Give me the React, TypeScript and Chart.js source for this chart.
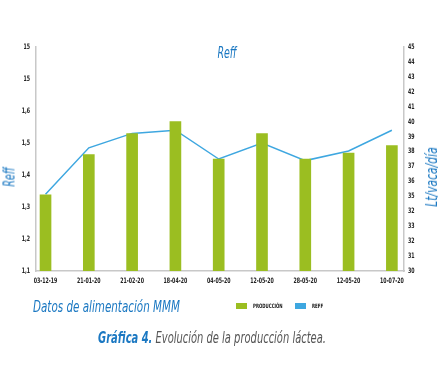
import React, { useEffect, useRef } from "react";
import { Chart, registerables } from "chart.js";

Chart.register(...registerables);

const dates = ["03-12-19", "21-01-20", "21-02-20", "18-04-20", "04-05-20", "12-05-20", "28-05-20", "12-05-20", "10-07-20"];
const produccion = [35.1, 37.8, 39.2, 40.0, 37.5, 39.2, 37.5, 37.9, 38.4];
const reff = [1.34, 1.485, 1.53, 1.54, 1.45, 1.5, 1.445, 1.475, 1.54];
const leftTicks = [1.1, 1.2, 1.3, 1.4, 1.5, 1.6, 1.7, 1.8];
const leftLabels = ["1,1", "1,2", "1,3", "1,4", "1,5", "1,6", "15", "15"];
const rightTicks = [30, 31, 32, 33, 34, 35, 36, 37, 38, 39, 40, 41, 42, 43, 44, 45];
const rightLabels = ["30", "31", "32", "33", "32", "35", "36", "37", "38", "39", "40", "41", "42", "43", "44", "45"];

const GREEN = "#9bbe21";
const BLUE_LINE = "#3ea7e0";
const BLUE_TEXT = "#1b78c2";
const NARROW = "'Liberation Sans Narrow', 'DejaVu Sans Condensed', sans-serif";
const SQUEEZE = 0.7;

// Draws the tick labels in a condensed way, positioned by the library's scales.
const condensedTicks = {
  id: "condensedTicks",
  afterDraw(chart: any) {
    const ctx = chart.ctx as CanvasRenderingContext2D;
    const xs = chart.scales.x;
    const yl = chart.scales.y;
    const yr = chart.scales.y2;
    const put = (text: string, x: number, y: number, align: CanvasTextAlign) => {
      ctx.save();
      ctx.translate(x, y);
      ctx.scale(SQUEEZE, 1);
      ctx.textAlign = align;
      ctx.textBaseline = "middle";
      ctx.fillText(text, 0, 0);
      ctx.restore();
    };
    ctx.save();
    ctx.fillStyle = "#222";
    ctx.font = "bold 7.5px " + NARROW;
    xs.ticks.forEach((t: any, i: number) => put(dates[i], xs.getPixelForValue(t.value), xs.top + 10, "center"));
    yl.ticks.forEach((t: any, i: number) => put(leftLabels[i], yl.right - 6, yl.getPixelForValue(t.value), "right"));
    yr.ticks.forEach((t: any, i: number) => put(rightLabels[i], yr.left + 4, yr.getPixelForValue(t.value), "left"));
    ctx.restore();
  },
};

export default function App() {
  const ref = useRef<HTMLCanvasElement>(null);
  useEffect(() => {
    const border = { display: true, color: "#c8c8c8", width: 1.5 };
    const chart = new Chart(ref.current!, {
      data: {
        labels: dates,
        datasets: [
          {
            type: "bar",
            label: "PRODUCCIÓN",
            data: produccion.map((v, i) => ({ x: i, y: v })),
            backgroundColor: GREEN,
            barThickness: 11,
            yAxisID: "y2",
            order: 1,
          },
          {
            type: "line",
            label: "REFF",
            data: reff.map((v, i) => ({ x: i, y: v })),
            borderColor: BLUE_LINE,
            borderWidth: 1.5,
            pointRadius: 0,
            tension: 0,
            yAxisID: "y",
            order: 2,
          },
        ],
      } as any,
      options: {
        animation: false,
        responsive: false,
        maintainAspectRatio: false,
        layout: { padding: { top: 47, left: 0, right: 0, bottom: 0 } },
        plugins: { legend: { display: false }, tooltip: { enabled: false }, title: { display: false } },
        scales: {
          x: {
            type: "linear",
            offset: false,
            min: -0.22,
            max: 8.28,
            grid: { display: false },
            border,
            afterBuildTicks: (s: any) => {
              s.ticks = dates.map((_, i) => ({ value: i }));
            },
            afterFit: (s: any) => {
              s.height = 96;
            },
            ticks: { display: false },
          },
          y: {
            type: "linear",
            position: "left",
            min: 1.1,
            max: 1.8,
            grid: { display: false },
            border,
            afterBuildTicks: (s: any) => {
              s.ticks = leftTicks.map((v) => ({ value: v }));
            },
            afterFit: (s: any) => {
              s.width = 36;
            },
            ticks: { display: false },
          },
          y2: {
            type: "linear",
            position: "right",
            min: 30,
            max: 45,
            grid: { display: false },
            border,
            afterBuildTicks: (s: any) => {
              s.ticks = rightTicks.map((v) => ({ value: v }));
            },
            afterFit: (s: any) => {
              s.width = 40;
            },
            ticks: { display: false },
          },
        },
      },
      plugins: [condensedTicks],
    } as any);
    return () => chart.destroy();
  }, []);

  const abs = (s: React.CSSProperties): React.CSSProperties => ({ position: "absolute", whiteSpace: "nowrap", fontFamily: NARROW, lineHeight: 1, ...s });
  const sq = (k = SQUEEZE) => ` scaleX(${k})`;

  return (
    <div style={{ position: "fixed", left: 0, top: 0, width: 444, height: 367, background: "#fff", overflow: "hidden" }}>
      <canvas ref={ref} width={444} height={367} style={{ position: "absolute", left: 0, top: 0, width: 444, height: 367 }} />
      <div style={abs({ left: 227, top: 53, transform: "translate(-50%,-50%)" + sq(), color: BLUE_TEXT, fontStyle: "italic", fontSize: 15 })}>Reff</div>
      <div style={abs({ left: 10, top: 177, transform: "translate(-50%,-50%) rotate(-90deg)" + sq(), color: BLUE_TEXT, fontStyle: "italic", fontSize: 15 })}>Reff</div>
      <div style={abs({ left: 432, top: 177, transform: "translate(-50%,-50%) rotate(-90deg)" + sq(0.75), color: BLUE_TEXT, fontStyle: "italic", fontSize: 16 })}>Lt/vaca/día</div>
      <div style={abs({ left: 33, top: 307, transformOrigin: "0 50%", transform: "translateY(-50%)" + sq(0.72), color: BLUE_TEXT, fontStyle: "italic", fontSize: 16 })}>Datos de alimentación MMM</div>
      <div style={abs({ left: 236, top: 303, width: 11, height: 6, background: GREEN })} />
      <div style={abs({ left: 253, top: 306, transformOrigin: "0 50%", transform: "translateY(-50%)" + sq(0.73), color: "#111", fontWeight: "bold", fontSize: 6 })}>PRODUCCIÓN</div>
      <div style={abs({ left: 295, top: 303, width: 11, height: 6, background: BLUE_LINE })} />
      <div style={abs({ left: 312, top: 306, transformOrigin: "0 50%", transform: "translateY(-50%)" + sq(0.73), color: "#111", fontWeight: "bold", fontSize: 6 })}>REFF</div>
      <div style={abs({ left: 212, top: 338, transform: "translate(-50%,-50%)" + sq(0.69), fontStyle: "italic", fontSize: 16, color: "#555" })}>
        <span style={{ color: BLUE_TEXT, fontWeight: "bold" }}>Gráfica 4.</span> Evolución de la producción láctea.
      </div>
    </div>
  );
}
